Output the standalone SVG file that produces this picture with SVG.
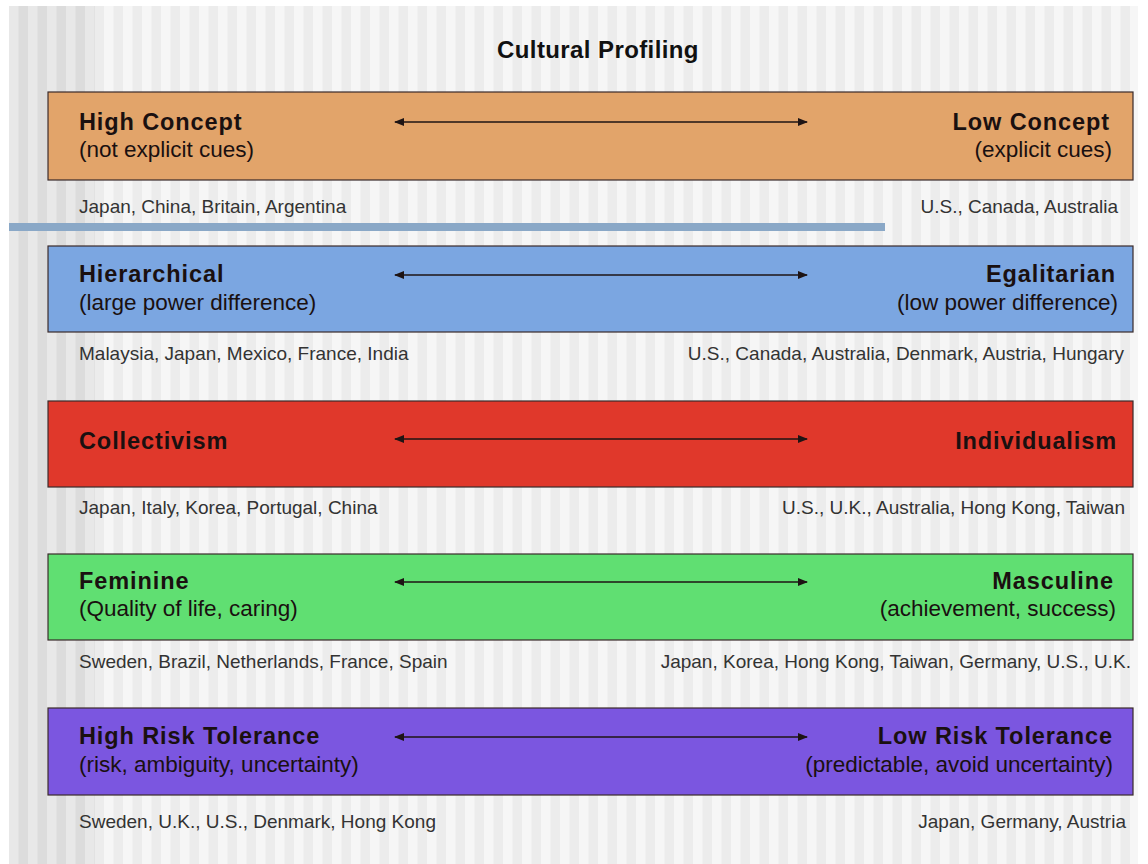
<svg xmlns="http://www.w3.org/2000/svg" width="1148" height="864" viewBox="0 0 1148 864">
<defs>
<pattern id="stripes" x="9" y="0" width="19" height="10" patternUnits="userSpaceOnUse">
<rect x="0" y="0" width="19" height="10" fill="#f6f6f6"/>
<rect x="9.5" y="0" width="9.5" height="10" fill="#ececec"/>
</pattern>
<pattern id="stripesDark" x="9" y="0" width="19" height="10" patternUnits="userSpaceOnUse">
<rect x="0" y="0" width="19" height="10" fill="#e8e8e8"/>
<rect x="9.5" y="0" width="9.5" height="10" fill="#dcdcdc"/>
</pattern>
<marker id="ah" viewBox="0 0 10 10" refX="9" refY="5" markerWidth="11" markerHeight="10" markerUnits="userSpaceOnUse" orient="auto-start-reverse">
<path d="M0,1 L10,5 L0,9 Z" fill="#1e1414"/>
</marker>
<style>
.box{stroke:#3a2a2a;stroke-width:1.2}
.t{font-family:"Liberation Sans",Arial,sans-serif;font-weight:bold;font-size:23.5px;letter-spacing:0.9px;fill:#1a1010}
.s{font-family:"Liberation Sans",Arial,sans-serif;font-size:22.5px;fill:#1a1010}
.c{font-family:"Liberation Sans",Arial,sans-serif;font-size:19px;fill:#333333}
.r{text-anchor:end}
.title{font-family:"Liberation Sans",Arial,sans-serif;font-weight:bold;font-size:24px;letter-spacing:0.4px;fill:#111111;text-anchor:middle}
.arrow{stroke:#1e1414;stroke-width:1.6;fill:none}
</style>
</defs>
<rect x="0" y="0" width="1148" height="864" fill="#ffffff"/>
<rect x="9" y="6" width="1129" height="858" fill="url(#stripes)"/>
<rect x="9" y="6" width="86" height="858" fill="url(#stripesDark)"/>
<rect x="9" y="223" width="876" height="8" fill="#8aa8c7"/>
<text class="title" x="598" y="58">Cultural Profiling</text>

<g id="node-context">
<rect class="box" x="48" y="92" width="1085" height="88" fill="#e2a46a"/>
<text class="t" x="79" y="130">High Concept</text>
<text class="s" x="79" y="157">(not explicit cues)</text>
<text class="t r" x="1110" y="130">Low Concept</text>
<text class="s r" x="1112" y="157">(explicit cues)</text>
<text class="c" x="79" y="213">Japan, China, Britain, Argentina</text>
<text class="c r" x="1118" y="213">U.S., Canada, Australia</text>
</g>

<g id="node-power">
<rect class="box" x="48" y="246" width="1085" height="86" fill="#7ba6e1"/>
<text class="t" x="79" y="282">Hierarchical</text>
<text class="s" x="79" y="310">(large power difference)</text>
<text class="t r" x="1116" y="282">Egalitarian</text>
<text class="s r" x="1118" y="310">(low power difference)</text>
<text class="c" x="79" y="360">Malaysia, Japan, Mexico, France, India</text>
<text class="c r" x="1124" y="360">U.S., Canada, Australia, Denmark, Austria, Hungary</text>
</g>

<g id="node-individualism">
<rect class="box" x="48" y="401" width="1085" height="86" fill="#e0382b"/>
<text class="t" x="79" y="449">Collectivism</text>
<text class="t r" x="1117" y="449">Individualism</text>
<text class="c" x="79" y="514">Japan, Italy, Korea, Portugal, China</text>
<text class="c r" x="1125" y="514">U.S., U.K., Australia, Hong Kong, Taiwan</text>
</g>

<g id="node-gender">
<rect class="box" x="48" y="554" width="1085" height="86" fill="#60df72"/>
<text class="t" x="79" y="589">Feminine</text>
<text class="s" x="79" y="616">(Quality of life, caring)</text>
<text class="t r" x="1114" y="589">Masculine</text>
<text class="s r" x="1116" y="616">(achievement, success)</text>
<text class="c" x="79" y="668">Sweden, Brazil, Netherlands, France, Spain</text>
<text class="c r" x="1131" y="668">Japan, Korea, Hong Kong, Taiwan, Germany, U.S., U.K.</text>
</g>

<g id="node-risk">
<rect class="box" x="48" y="708" width="1085" height="87" fill="#7b56e0"/>
<text class="t" x="79" y="744">High Risk Tolerance</text>
<text class="s" x="79" y="772">(risk, ambiguity, uncertainty)</text>
<text class="t r" x="1113" y="744">Low Risk Tolerance</text>
<text class="s r" x="1113" y="772">(predictable, avoid uncertainty)</text>
<text class="c" x="79" y="828">Sweden, U.K., U.S., Denmark, Hong Kong</text>
<text class="c r" x="1126" y="828">Japan, Germany, Austria</text>
</g>

<g id="connectors">
<line class="arrow" x1="395" y1="122" x2="807" y2="122" marker-start="url(#ah)" marker-end="url(#ah)"/>
<line class="arrow" x1="395" y1="275" x2="807" y2="275" marker-start="url(#ah)" marker-end="url(#ah)"/>
<line class="arrow" x1="395" y1="439" x2="807" y2="439" marker-start="url(#ah)" marker-end="url(#ah)"/>
<line class="arrow" x1="395" y1="582" x2="807" y2="582" marker-start="url(#ah)" marker-end="url(#ah)"/>
<line class="arrow" x1="395" y1="737" x2="807" y2="737" marker-start="url(#ah)" marker-end="url(#ah)"/>
</g>
</svg>
